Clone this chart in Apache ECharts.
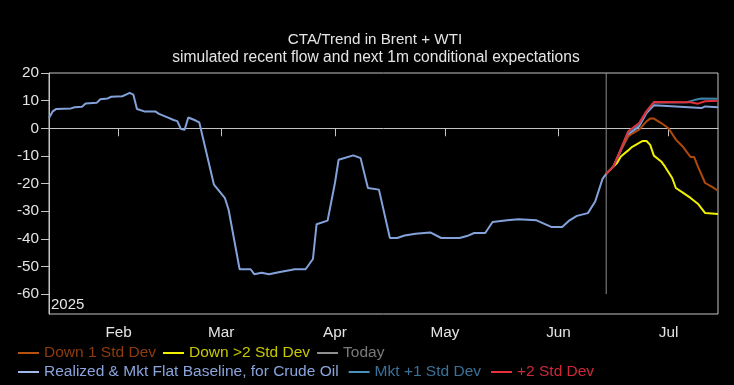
<!DOCTYPE html>
<html><head><meta charset="utf-8">
<script src="https://cdn.jsdelivr.net/npm/echarts@6/dist/echarts.min.js"></script>
<style>html,body{margin:0;padding:0;background:#000;}#c{width:734px;height:385px;}</style>
</head><body><div id="c"></div>
<script>
const FONT = '"Liberation Sans", Arial, sans-serif';
const titleText = 'CTA/Trend in Brent + WTI';
const subtitleText = 'simulated recent flow and next 1m conditional expectations';
const yearLabel = '2025';

const monthTicks = ['2025-02-01','2025-03-01','2025-04-01','2025-05-01','2025-06-01','2025-07-01'];
const monthLabels = ['Feb','Mar','Apr','May','Jun','Jul'];
const yTicks = [-60,-50,-40,-30,-20,-10,0,10,20];

const realizedDates = ['2025-01-13','2025-01-14','2025-01-15','2025-01-19','2025-01-20','2025-01-22','2025-01-23','2025-01-26','2025-01-27','2025-01-29','2025-01-30',
 '2025-02-02','2025-02-03','2025-02-04','2025-02-05','2025-02-06','2025-02-08','2025-02-11','2025-02-12','2025-02-14','2025-02-16','2025-02-17','2025-02-18','2025-02-19','2025-02-20','2025-02-22','2025-02-23','2025-02-27',
 '2025-03-02','2025-03-03','2025-03-06','2025-03-09','2025-03-10','2025-03-12','2025-03-14','2025-03-17','2025-03-20','2025-03-21','2025-03-24','2025-03-26','2025-03-27','2025-03-30',
 '2025-04-01','2025-04-02','2025-04-06','2025-04-08','2025-04-10','2025-04-13','2025-04-16','2025-04-18','2025-04-20','2025-04-23','2025-04-27','2025-04-30',
 '2025-05-05','2025-05-07','2025-05-09','2025-05-12','2025-05-14','2025-05-18','2025-05-21','2025-05-26','2025-05-30',
 '2025-06-02','2025-06-04','2025-06-06','2025-06-09','2025-06-11','2025-06-13','2025-06-14','2025-06-16','2025-06-18','2025-06-20','2025-06-23','2025-06-25','2025-06-27',
 '2025-07-03','2025-07-10','2025-07-11','2025-07-14 12:00'];
const realizedValues = [3.7,6.1,7.0,7.2,7.6,7.8,9.0,9.2,10.5,10.8,11.4,
 11.6,12.2,12.8,12.2,7.0,6.1,6.1,5.2,4.1,3.0,2.6,-0.3,-0.5,3.9,2.8,2.1,-20.4,
 -25.3,-29.5,-51.0,-51.0,-52.8,-52.3,-52.8,-52.0,-51.3,-51.0,-51.0,-47.3,-34.7,-33.4,
 -19.8,-11.4,-9.8,-10.8,-21.6,-22.2,-39.7,-39.7,-38.8,-38.2,-37.7,-39.7,
 -39.7,-39.0,-37.9,-37.9,-33.9,-33.3,-32.9,-33.3,-35.7,
 -35.7,-33.3,-31.7,-30.7,-26.5,-18.3,-16.5,-13.8,-8.0,-2.3,0.7,5.5,8.3,
 7.9,7.3,7.9,7.6];

const mkt1Dates = ['2025-06-14','2025-06-16','2025-06-18','2025-06-20','2025-06-23','2025-06-25','2025-06-27','2025-07-06','2025-07-08','2025-07-10','2025-07-14 12:00'];
const mkt1Values = [-16.5,-13.8,-7.6,-1.4,1.6,6.0,9.3,9.4,10.2,10.8,10.7];

const up2Dates = ['2025-06-14','2025-06-16','2025-06-18','2025-06-20','2025-06-23','2025-06-25','2025-06-27','2025-07-07','2025-07-09','2025-07-11','2025-07-14 12:00'];
const up2Values = [-16.5,-13.8,-7.5,-1.1,1.9,6.2,9.5,9.4,8.9,9.8,10.0];

const down1Dates = ['2025-06-14','2025-06-16','2025-06-18','2025-06-20','2025-06-21','2025-06-23','2025-06-25','2025-06-26','2025-06-27','2025-06-29','2025-07-01','2025-07-03','2025-07-05','2025-07-07','2025-07-08','2025-07-09','2025-07-11','2025-07-13','2025-07-14 12:00'];
const down1Values = [-16.5,-13.8,-8.0,-3.0,-2.0,-0.5,2.5,3.5,3.5,1.9,0.0,-4.1,-6.8,-10.4,-10.4,-13.8,-19.8,-21.3,-22.6];

const down2Dates = ['2025-06-14','2025-06-16','2025-06-17','2025-06-18','2025-06-20','2025-06-21','2025-06-23','2025-06-24','2025-06-25','2025-06-26','2025-06-27','2025-06-29','2025-06-30','2025-07-02','2025-07-03','2025-07-05','2025-07-07','2025-07-09','2025-07-11','2025-07-14 12:00'];
const down2Values = [-16.5,-13.8,-12.5,-10.2,-8.0,-6.8,-5.3,-4.6,-4.6,-6.0,-9.9,-12.0,-13.8,-18.0,-21.6,-23.4,-25.2,-27.3,-30.7,-31.0];

const todayDate = '2025-06-14';
const todayRange = [20, -60];

const names = {
  down1: 'Down 1 Std Dev', down2: 'Down >2 Std Dev', today: 'Today',
  real: 'Realized & Mkt Flat Baseline, for Crude Oil', mkt1: 'Mkt +1 Std Dev', up2: '+2 Std Dev'
};

function toTs(s){
  const [d,t] = s.split(' ');
  const [y,m,dd] = d.split('-').map(Number);
  let h = 0, mi = 0;
  if (t) { [h,mi] = t.split(':').map(Number); }
  return new Date(y, m-1, dd, h, mi).getTime();
}
function zip(ds, vs){ return ds.map((d,i)=>[toTs(d), vs[i]]); }
const monthTickTs = monthTicks.map(toTs);

const chart = echarts.init(document.getElementById('c'), null, {renderer:'canvas'});
const lineS = (name, data, color, w, z) => ({
  name, type:'line', data, showSymbol:false, symbol:'none', z: z||2,
  lineStyle:{color, width:w}, itemStyle:{color}, animation:false
});
const leg = (name, icon, txt) => ({name, itemStyle:{color:icon}, textStyle:{color:txt}});

chart.setOption({
  backgroundColor:'#000',
  animation:false,
  textStyle:{fontFamily:FONT},
  title:[
    {text:titleText, left:370, top:27, textAlign:'center', textStyle:{color:'#e4e4e4', fontSize:15.2, fontWeight:'normal', fontFamily:FONT}},
    {text:subtitleText, left:371, top:45, textAlign:'center', textStyle:{color:'#e4e4e4', fontSize:15.6, fontWeight:'normal', fontFamily:FONT}}
  ],
  grid:{left:49, right:16, top:73, bottom:71, show:true, borderColor:'#c4c4c4', borderWidth:1, backgroundColor:'transparent'},
  legend:[
    {left:18, top:345, itemWidth:21, itemHeight:2, itemGap:7, icon:'rect', padding:0,
     textStyle:{fontSize:15.5, fontFamily:FONT},
     data:[leg(names.down1,'#b85010','#8f3c0c'), leg(names.down2,'#f0f000','#c8c800'), leg(names.today,'#909090','#7a7a7a')]},
    {left:18, top:364, itemWidth:21, itemHeight:2, itemGap:10, icon:'rect', padding:0,
     textStyle:{fontSize:15.5, fontFamily:FONT},
     data:[leg(names.real,'#a0b8ec','#8aa4dc'), leg(names.mkt1,'#4a90b8','#3a7298'), leg(names.up2,'#e8303a','#d0283a')]}
  ],
  graphic:[{type:'text', left:51, top:297, style:{text:yearLabel, fill:'#e4e4e4', font:'15px '+FONT}}],
  xAxis:{
    type:'value', min:toTs('2025-01-13'), max:toTs('2025-07-14 12:00'),
    axisLine:{show:true, lineStyle:{color:'#c4c4c4', width:1}},
    axisTick:{show:true, length:8, lineStyle:{color:'#c4c4c4'}, customValues:monthTickTs},
    axisLabel:{color:'#e4e4e4', fontSize:15.3, fontFamily:FONT, margin:11, customValues:monthTickTs,
      formatter:(v)=>{ const i = monthTickTs.indexOf(v); return i>=0 ? monthLabels[i] : ''; }},
    splitLine:{show:false}
  },
  yAxis:{
    type:'value', min:-67.2, max:20,
    axisLine:{show:true, lineStyle:{color:'#c4c4c4', width:1}},
    axisTick:{show:true, length:8, lineStyle:{color:'#c4c4c4'}, customValues:yTicks},
    axisLabel:{color:'#e4e4e4', fontSize:15.3, fontFamily:FONT, margin:10, customValues:yTicks},
    splitLine:{show:false}
  },
  series:[
    lineS(names.real, zip(realizedDates, realizedValues), '#84a2da', 2, 3),
    lineS(names.today, [[toTs(todayDate), todayRange[0]],[toTs(todayDate), todayRange[1]]], '#8c8c8c', 1, 2),
    lineS(names.down1, zip(down1Dates, down1Values), '#b04a0c', 2, 4),
    lineS(names.down2, zip(down2Dates, down2Values), '#f0f000', 2, 4),
    lineS(names.mkt1, zip(mkt1Dates, mkt1Values), '#3b84a8', 2, 4),
    lineS(names.up2, zip(up2Dates, up2Values), '#e0303c', 2, 5)
  ]
});
</script></body></html>
